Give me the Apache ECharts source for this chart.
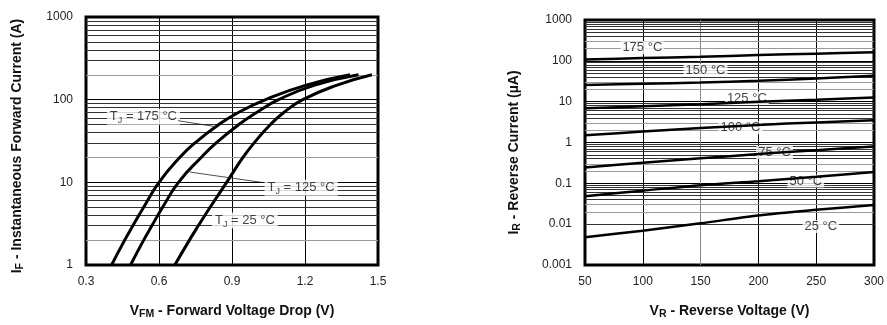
<!DOCTYPE html>
<html>
<head>
<meta charset="utf-8">
<script src="https://cdn.jsdelivr.net/npm/echarts@6/dist/echarts.min.js"></script>
<style>
  html, body { margin: 0; padding: 0; background: #fff; }
  #c { width: 887px; height: 325px; }
</style>
</head>
<body>
<div id="c"></div>
<script>
// ---- Forward characteristics: [V_FM (V), I_F (A)] ----
const fwd175 = [[0.405,1],[0.459,2],[0.493,3],[0.537,5],[0.600,10],[0.685,20],[0.748,30],[0.846,50],[0.926,70],[1.038,100],[1.205,150],[1.385,200]];
const fwd125 = [[0.483,1],[0.537,2],[0.571,3],[0.615,5],[0.680,10],[0.773,20],[0.835,30],[0.928,50],[1.001,70],[1.091,100],[1.240,150],[1.42,200]];
const fwd25  = [[0.665,1],[0.725,2],[0.762,3],[0.810,5],[0.878,10],[0.945,20],[0.991,30],[1.058,50],[1.113,70],[1.191,100],[1.332,150],[1.475,200]];

// ---- Reverse characteristics: [V_R (V), I_R (µA)] ----
const rev175 = [[50,108],[100,117],[150,126],[200,138],[250,150],[300,162]];
const rev150 = [[50,25.5],[100,27.5],[150,29.5],[200,32.5],[250,37],[300,43]];
const rev125 = [[50,6.9],[100,7.7],[150,8.6],[200,9.9],[250,11.2],[300,12.7]];
const rev100 = [[50,1.5],[100,1.85],[150,2.25],[200,2.7],[250,3.1],[300,3.5]];
const rev75  = [[50,0.245],[100,0.32],[150,0.41],[200,0.52],[250,0.65],[300,0.8]];
const rev50  = [[50,0.0485],[100,0.066],[150,0.09],[200,0.113],[250,0.145],[300,0.19]];
const rev25  = [[50,0.0048],[100,0.0069],[150,0.0105],[200,0.0163],[250,0.0224],[300,0.0296]];

// ---- Tick labels ----
const fwdXTicks = ['0.3','0.6','0.9','1.2','1.5'];
const fwdYTicks = ['1','10','100','1000'];
const revXTicks = ['50','100','150','200','250','300'];
const revYTicks = ['0.001','0.01','0.1','1','10','100','1000'];

// ---- Curve annotations ----
const fwdTemps = ['175','125','25'];
const revTemps = ['175','150','125','100','75','50','25'];

const FONT = 'Arial, "Liberation Sans", sans-serif';

// minor log grid lines (2..9 in each decade)
function minorLines(eLo, eHi, grey) {
  const out = [];
  for (let e = eLo; e < eHi; e++) {
    const d = Math.pow(10, e);
    for (let m = 2; m <= 9; m++) {
      out.push({ yAxis: +(m * d).toPrecision(3), lineStyle: { color: grey.indexOf(m) >= 0 ? '#999' : '#333' } });
    }
  }
  return out;
}

function gridLineSeries(xi, eLo, eHi, grey) {
  return {
    type: 'line', xAxisIndex: xi, yAxisIndex: xi, data: [], z: 1, silent: true,
    markLine: {
      z: 1, silent: true, symbol: ['none', 'none'], animation: false,
      label: { show: false },
      lineStyle: { type: 'solid', width: 1, color: '#333' },
      emphasis: { disabled: true },
      data: minorLines(eLo, eHi, grey)
    }
  };
}

function curve(xi, data, w, sm) {
  return {
    type: 'line', xAxisIndex: xi, yAxisIndex: xi, data: data,
    smooth: sm,
    showSymbol: false, symbol: 'none', z: 3, silent: true,
    lineStyle: { color: '#000', width: w }
  };
}

const subRich = {
  m: { fontFamily: FONT, fontSize: 14, fontWeight: 'bold', color: '#111' },
  s: { fontFamily: FONT, fontSize: 10.5, fontWeight: 'bold', color: '#111', padding: [7, 0, 0, 0] }
};
const labRich = {
  t: { fontFamily: FONT, fontSize: 13, color: '#111' },
  s: { fontFamily: FONT, fontSize: 9, color: '#111', padding: [7, 0, 0, 0] }
};

const fwdLabelPos = [[0.536, 62], [1.184, 8.6], [0.953, 3.45]];
const revLabelPos = [[99.6, 210], [154.3, 58], [190, 12.3], [184.5, 2.31], [214, 0.57], [241, 0.114], [254, 0.0088]];

const tickFont = { fontFamily: FONT, fontSize: 12, color: '#222' };

const option = {
  animation: false,
  backgroundColor: '#fff',
  grid: [
    { left: 86, top: 17, width: 292, height: 251, show: true, borderColor: '#000', borderWidth: 3, backgroundColor: 'transparent' },
    { left: 585, top: 20, width: 290, height: 248, show: true, borderColor: '#000', borderWidth: 3, backgroundColor: 'transparent' }
  ],
  xAxis: [
    {
      gridIndex: 0, type: 'value', min: 0.3, max: 1.5, interval: 0.3,
      axisLine: { show: false }, axisTick: { show: false },
      splitLine: { show: true, lineStyle: { color: '#000', width: 1 } },
      axisLabel: Object.assign({ margin: 11, formatter: v => fwdXTicks[Math.round((v - 0.3) / 0.3)] }, tickFont),
      name: '{m|V}{s|FM}{m| - Forward Voltage Drop (V)}',
      nameLocation: 'middle', nameGap: 37, nameTextStyle: { rich: subRich }
    },
    {
      gridIndex: 1, type: 'value', min: 50, max: 300, interval: 50,
      axisLine: { show: false }, axisTick: { show: false },
      splitLine: { show: true, lineStyle: { color: ['#000', '#000', '#888', '#000', '#000', '#000'], width: 1 } },
      axisLabel: Object.assign({ margin: 11, formatter: v => revXTicks[Math.round((v - 50) / 50)] }, tickFont),
      name: '{m|V}{s|R}{m| - Reverse Voltage (V)}',
      nameLocation: 'middle', nameGap: 37, nameTextStyle: { rich: subRich }
    }
  ],
  yAxis: [
    {
      gridIndex: 0, type: 'log', logBase: 10, min: 1, max: 1000, splitNumber: 3,
      axisLine: { show: false }, axisTick: { show: false },
      splitLine: { show: true, lineStyle: { color: '#000', width: 1 } },
      axisLabel: Object.assign({ margin: 13, formatter: v => fwdYTicks[Math.round(Math.log10(v))] }, tickFont),
      name: '{m|I}{s|F}{m| - Instantaneous Forward Current (A)}',
      nameLocation: 'middle', nameGap: 60, nameTextStyle: { rich: subRich, padding: [0, 10, 0, 0] }
    },
    {
      gridIndex: 1, type: 'log', logBase: 10, min: 0.001, max: 1000, splitNumber: 6,
      axisLine: { show: false }, axisTick: { show: false },
      splitLine: { show: true, lineStyle: { color: '#000', width: 1 } },
      axisLabel: Object.assign({ margin: 13, formatter: v => revYTicks[Math.round(Math.log10(v)) + 3] }, tickFont),
      name: '{m|I}{s|R}{m| - Reverse Current (µA)}',
      nameLocation: 'middle', nameGap: 62, nameTextStyle: { rich: subRich, padding: [0, 20, 0, 0] }
    }
  ],
  series: [
    gridLineSeries(0, 0, 3, [2]),
    gridLineSeries(1, -3, 3, [2, 3]),
    curve(0, fwd175, 3, 0.5),
    curve(0, fwd125, 3, 0.5),
    curve(0, fwd25, 3, 0.5),
    curve(1, rev175, 2.5, 0.3),
    curve(1, rev150, 2.5, 0.3),
    curve(1, rev125, 2.5, 0.3),
    curve(1, rev100, 2.5, 0.3),
    curve(1, rev75, 2.5, 0.3),
    curve(1, rev50, 2.5, 0.3),
    curve(1, rev25, 2.5, 0.3),
    {
      type: 'scatter', xAxisIndex: 0, yAxisIndex: 0, z: 2, silent: true,
      symbolSize: 1, itemStyle: { color: 'rgba(0,0,0,0)' },
      data: fwdTemps.map((t, i) => ({ value: fwdLabelPos[i], temp: t })),
      label: {
        show: true, position: 'inside', backgroundColor: '#fff', padding: [0, 3],
        formatter: p => '{t|T}{s|J}{t| = ' + p.data.temp + ' °C}', rich: labRich
      },
      markLine: {
        silent: true, symbol: ['none', 'none'], animation: false,
        label: { show: false },
        lineStyle: { type: 'solid', width: 0.8, color: '#222' },
        data: [
          [{ coord: [0.678, 55.7] }, { coord: [0.84, 46.8] }],
          [{ coord: [1.023, 9.98] }, { coord: [0.728, 13.3] }]
        ]
      }
    },
    {
      type: 'scatter', xAxisIndex: 1, yAxisIndex: 1, z: 2, silent: true,
      symbolSize: 1, itemStyle: { color: 'rgba(0,0,0,0)' },
      data: revTemps.map((t, i) => ({ value: revLabelPos[i], temp: t })),
      label: {
        show: true, position: 'inside', backgroundColor: '#fff', padding: [0, 2],
        fontFamily: FONT, fontSize: 13, color: '#111',
        formatter: p => p.data.temp + ' °C'
      }
    }
  ]
};

const chart = echarts.init(document.getElementById('c'));
chart.setOption(option);
</script>
</body>
</html>
